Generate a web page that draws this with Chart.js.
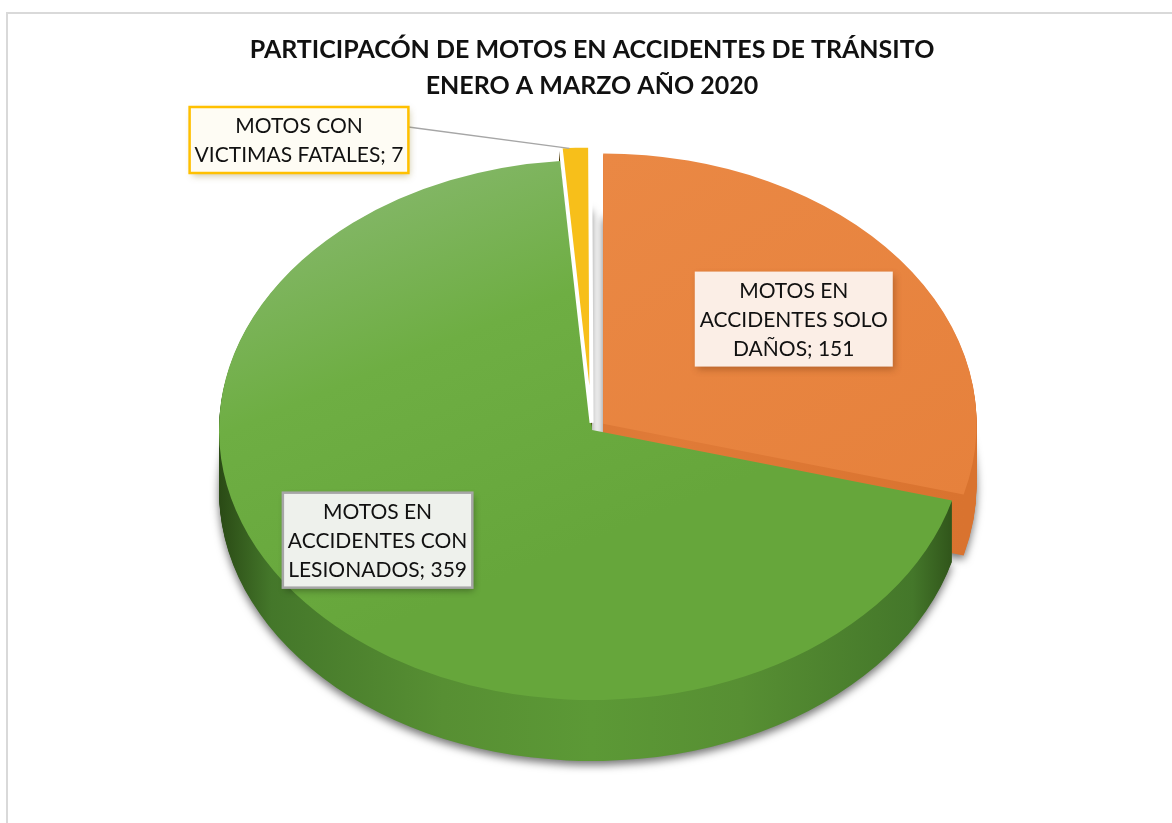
<!DOCTYPE html>
<html><head><meta charset="utf-8">
<script src="https://cdn.jsdelivr.net/npm/chart.js@4.4.1/dist/chart.umd.min.js"></script>
<style>
html,body{margin:0;padding:0;background:#fff;}
#wrap{position:relative;width:1172px;height:823px;overflow:hidden;}
#frame{position:absolute;left:6px;top:12px;width:1300px;height:1000px;border-left:2px solid #d9d9d9;border-top:2px solid #d9d9d9;}
canvas{position:absolute;left:0;top:0;}
</style></head><body>
<div id="wrap"><div id="frame"></div><canvas id="c" width="1172" height="823"></canvas></div>
<script>
// ---- data ----
const titleLines = ['PARTICIPACÓN DE MOTOS EN ACCIDENTES DE TRÁNSITO', 'ENERO A MARZO AÑO 2020'];
const categories = ['MOTOS EN ACCIDENTES SOLO DAÑOS', 'MOTOS EN ACCIDENTES CON LESIONADOS', 'MOTOS CON VICTIMAS FATALES'];
const values = [151, 359, 7];

// ---- styles ----
const SY = 0.724;      // vertical squash of the pie (tilt)
const DEPTH = 61;      // thickness of the pie
const greenSide = [[0,'#2a4a15'],[0.07,'#44772a'],[0.3,'#578f33'],[0.5,'#5c9936'],[0.7,'#578f33'],[0.93,'#44772a'],[1,'#2a4a15']];
const orangeSide = [[0,'#c9682a'],[0.6,'#e07b38'],[1,'#d9732f']];
const yellowSide = [[0,'#4a3600'],[1,'#4a3600']];
const sideStops = [orangeSide, greenSide, yellowSide];
const labelStyle = [
  {r:0.62, dx:7, dy:-3, maxW:195, bg:'#fbeee6', border:null, shadow:'rgba(120,60,20,0.45)'},
  {r:0.70, dx:-14, dy:-11, maxW:195, bg:'#eef1ec', border:'#a6a6a6', shadow:'rgba(0,0,0,0.35)'},
  {outside:true, x:299, y:140, maxW:222, bg:'#fefcf4', border:'#ffc000', shadow:'rgba(120,100,0,0.35)'}
];
const FONT = '21px Lato';

function grad(ctx, x0, y0, x1, y1, stops){
  const g = ctx.createLinearGradient(x0, y0, x1, y1);
  stops.forEach(s => g.addColorStop(s[0], s[1]));
  return g;
}
function center(chart){
  const a = chart.chartArea;
  return {cx:(a.left+a.right)/2, cy:(a.top+a.bottom)/2};
}
function topColor(c){
  const ch = c.chart; const i = c.dataIndex;
  const solid = ['#e8843f', '#6aad3e', '#f7bf1a'][i];
  if (!ch.chartArea || i === 2) return solid;
  const {cx, cy} = center(ch);
  if (i === 0) return grad(ch.ctx, cx, cy-373, cx+373, cy+100, [[0,'#ea8844'],[1,'#e6813c']]);
  return grad(ch.ctx, cx-220, cy-373, cx+60, cy+120, [[0,'#87b86d'],[0.45,'#6eae43'],[1,'#66a63b']]);
}

function arcGeom(arc){
  const p = arc.getProps(['x','y','startAngle','endAngle','outerRadius'], true);
  const off = (arc.options.offset || 0) / 4;
  const mid = (p.startAngle + p.endAngle) / 2;
  const circ = p.endAngle - p.startAngle;
  const rOff = off * (1 - Math.sin(Math.min(Math.PI, circ)));
  return {x:p.x + Math.cos(mid)*off, y:p.y + Math.sin(mid)*off, r:p.outerRadius + rOff,
          s:p.startAngle, e:p.endAngle, mid, off, cx:p.x, cy:p.y, R:p.outerRadius};
}

function wrap(ctx, text, maxW){
  const words = text.split(' '); const lines = []; let cur = '';
  words.forEach(w => {
    const t = cur ? cur + ' ' + w : w;
    if (ctx.measureText(t).width > maxW && cur) { lines.push(cur); cur = w; } else cur = t;
  });
  if (cur) lines.push(cur);
  return lines;
}

const pie3d = {
  id:'pie3d',
  beforeDatasetsDraw(chart){
    const ctx = chart.ctx; const meta = chart.getDatasetMeta(0);
    const {cx, cy} = center(chart);
    const R = meta.data[0].outerRadius;
    const fills = sideStops.map(s => grad(ctx, cx-R, 0, cx+R, 0, s));
    ctx.save();
    for (let d = DEPTH; d >= 1; d--) {
      ctx.save();
      ctx.translate(0, d);
      ctx.translate(cx, cy); ctx.scale(1, SY); ctx.translate(-cx, -cy);
      if (d === DEPTH) { ctx.shadowColor = 'rgba(0,0,0,0.55)'; ctx.shadowBlur = 9; ctx.shadowOffsetY = 4; }
      meta.data.forEach((arc, i) => {
        const g = arcGeom(arc);
        ctx.beginPath(); ctx.moveTo(g.x, g.y); ctx.arc(g.x, g.y, g.r, g.s, g.e); ctx.closePath();
        ctx.fillStyle = fills[i]; ctx.fill();
      });
      ctx.restore();
    }
    ctx.translate(cx, cy); ctx.scale(1, SY); ctx.translate(-cx, -cy);
  },
  afterDatasetsDraw(chart){
    const ctx = chart.ctx;
    ctx.restore();
    const meta = chart.getDatasetMeta(0);
    const {cy} = center(chart);
    ctx.save();
    ctx.font = FONT;
    meta.data.forEach((arc, i) => {
      const st = labelStyle[i]; const g = arcGeom(arc);
      const lines = wrap(ctx, categories[i] + '; ' + values[i], st.maxW);
      const lh = 29;
      const w = Math.max(...lines.map(l => ctx.measureText(l).width)) + 10;
      const h = lines.length * lh + 8;
      let bx, by;
      if (st.outside) { bx = st.x; by = st.y; }
      else {
        const rr = g.R * st.r;
        bx = g.x + Math.cos(g.mid) * rr + st.dx;
        by = cy + (g.y - cy) * SY + Math.sin(g.mid) * rr * SY + st.dy;
      }
      const x0 = bx - w/2, y0 = by - h/2;
      if (st.outside) {
        const tx = g.x + Math.cos(g.mid) * g.r, ty = cy + (g.y + Math.sin(g.mid) * g.r - cy) * SY;
        ctx.strokeStyle = '#a6a6a6'; ctx.lineWidth = 1.3;
        ctx.beginPath(); ctx.moveTo(x0 + w, y0 + 20); ctx.lineTo(tx - 6, ty + 2); ctx.stroke();
      }
      ctx.save();
      ctx.shadowColor = st.shadow; ctx.shadowBlur = 7; ctx.shadowOffsetX = 2; ctx.shadowOffsetY = 3;
      ctx.fillStyle = st.bg; ctx.fillRect(x0, y0, w, h);
      ctx.restore();
      if (st.border) { ctx.strokeStyle = st.border; ctx.lineWidth = 2.5; ctx.strokeRect(x0, y0, w, h); }
      ctx.fillStyle = '#111'; ctx.textAlign = 'center'; ctx.textBaseline = 'middle';
      lines.forEach((l, k) => ctx.fillText(l, bx, y0 + 4 + lh/2 + k*lh + 1));
    });
    ctx.restore();
  }
};

new Chart(document.getElementById('c'), {
  type:'pie',
  data:{
    labels: categories,
    datasets:[{
      data: values,
      backgroundColor: topColor,
      borderColor:'#ffffff',
      borderWidth:[0, 0, 4],
      offset:[56, 0, 40],
      radius:373,
      clip:false
    }]
  },
  options:{
    responsive:false,
    animation:false,
    layout:{padding:{left:20, right:8, top:0, bottom:77}},
    plugins:{
      legend:{display:false},
      tooltip:{enabled:false},
      title:{display:true, text:titleLines, color:'#111',
        font:{family:'Lato', size:25, weight:'bold', lineHeight:1.44},
        padding:{top:32, bottom:10}}
    }
  },
  plugins:[pie3d]
});
</script>
</body></html>
